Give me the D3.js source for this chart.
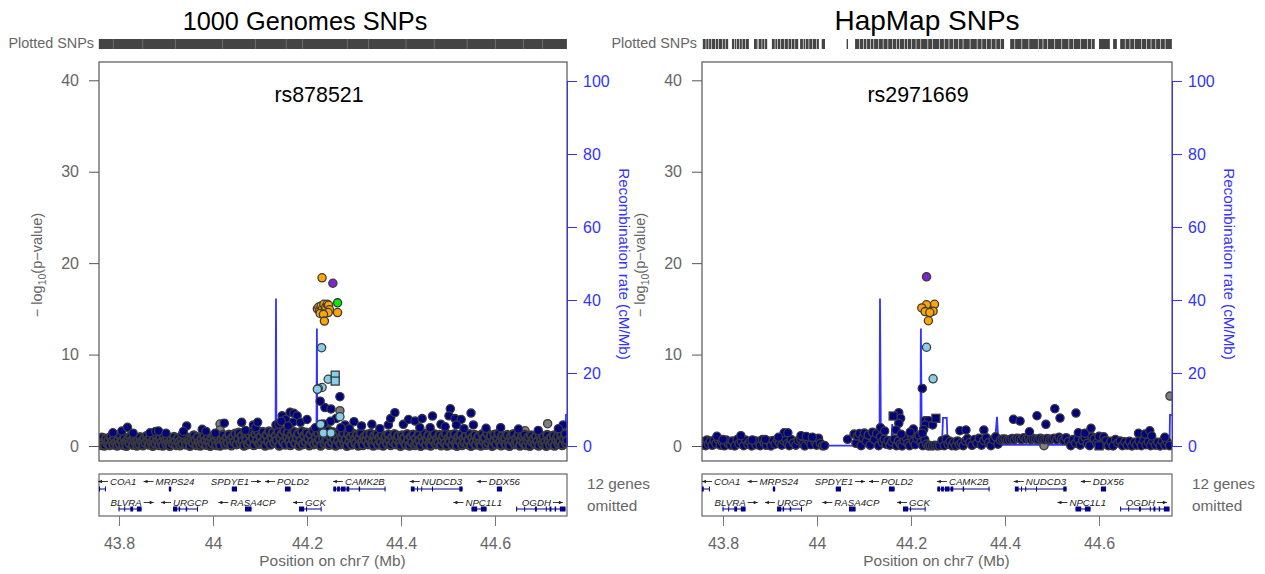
<!DOCTYPE html>
<html>
<head>
<meta charset="utf-8">
<script src="https://cdn.jsdelivr.net/npm/d3@7"></script>
<style>
body { margin: 0; background: #fff; overflow: hidden; }
text { font-family: "Liberation Sans", Arial, sans-serif; }
</style>
</head>
<body>
<div id="chart"></div>
<script>
// values: [position Mb, -log10 p]
var kgBase = [[43.757,.2],[43.759,.7],[43.762,.1],[43.764,.9],[43.767,.4],[43.769,.05],[43.772,.8],[43.775,.3],[43.777,.6],[43.78,.1],[43.782,1],[43.785,.5],[43.788,.15],[43.79,.85],[43.793,.35],[43.796,.05],[43.798,.7],[43.801,.25],[43.803,1.1],[43.806,.55],[43.809,.1],[43.811,.9],[43.814,.4],[43.816,.02],[43.819,.75],[43.822,.3],[43.824,1.05],[43.827,.6],[43.83,.12],[43.832,.85],[43.835,.45],[43.838,.05],[43.84,.7],[43.843,.2],[43.845,.95],[43.848,.5],[43.851,.08],[43.853,.8],[43.856,.35],[43.859,1.1],[43.861,.6],[43.864,.15],[43.866,.9],[43.869,.4],[43.872,.03],[43.874,.75],[43.877,.25],[43.88,1.05],[43.882,.55],[43.885,.1],[43.887,.85],[43.89,.4],[43.893,.05],[43.895,1],[43.898,.6],[43.901,.2],[43.903,.8],[43.906,.35],[43.908,.02],[43.911,.7],[43.914,.3],[43.917,1],[43.919,.5],[43.922,.1],[43.925,.85],[43.927,.4],[43.93,.07],[43.933,.75],[43.935,.25],[43.938,1.1],[43.941,.6],[43.943,.15],[43.946,.9],[43.949,.45],[43.951,.03],[43.954,.8],[43.957,.35],[43.959,1.15],[43.962,.65],[43.965,.1],[43.967,.95],[43.97,.4],[43.973,.05],[43.975,.75],[43.978,.3],[43.981,1.1],[43.983,.55],[43.986,.12],[43.989,.9],[43.991,.45],[43.994,.02],[43.997,.8],[43.999,.3],[44.002,1.15],[44.005,.6],[44.007,.1],[44.01,.95],[44.013,.4],[44.015,.05],[44.018,.75],[44.021,1.2],[44.023,.5],[44.026,.15],[44.029,.9],[44.031,.35],[44.034,1.25],[44.037,.65],[44.039,.08],[44.042,1],[44.045,.45],[44.047,1.35],[44.05,.2],[44.053,.8],[44.055,1.45],[44.058,.3],[44.061,1.1],[44.063,.55],[44.066,.05],[44.069,1.4],[44.071,.7],[44.074,.2],[44.077,1.25],[44.079,.45],[44.082,1.55],[44.085,.85],[44.087,.1],[44.09,1.3],[44.093,.6],[44.095,1.6],[44.098,.25],[44.101,1],[44.103,.4],[44.106,1.55],[44.109,.7],[44.111,.05],[44.114,1.2],[44.117,.5],[44.119,1.6],[44.122,.15],[44.125,.9],[44.127,1.45],[44.13,.35],[44.133,1.1],[44.135,.6],[44.138,1.6],[44.141,.05],[44.143,.85],[44.146,1.3],[44.149,.4],[44.151,1.65],[44.154,.15],[44.157,1],[44.159,1.5],[44.162,.55],[44.165,.1],[44.167,1.2],[44.17,.7],[44.173,1.55],[44.175,.3],[44.178,.9],[44.181,1.35],[44.183,.05],[44.186,.6],[44.189,1.6],[44.191,.2],[44.194,1.1],[44.197,.45],[44.199,1.45],[44.202,.8],[44.205,.08],[44.207,1.25],[44.21,.5],[44.213,1.65],[44.215,.2],[44.218,1],[44.221,.35],[44.223,1.4],[44.226,.7],[44.229,.05],[44.231,1.6],[44.234,.9],[44.237,.3],[44.239,1.2],[44.242,.55],[44.245,1.7],[44.247,.12],[44.25,1],[44.253,.4],[44.255,1.5],[44.258,.75],[44.261,.05],[44.263,1.3],[44.266,.6],[44.269,1.6],[44.271,.2],[44.274,.95],[44.277,1.4],[44.279,.35],[44.282,.7],[44.285,.02],[44.287,1.3],[44.29,.5],[44.293,1],[44.295,.15],[44.298,1.35],[44.301,.7],[44.303,.3],[44.306,1.2],[44.309,.05],[44.311,.85],[44.314,1.4],[44.317,.45],[44.319,.1],[44.322,1],[44.325,.6],[44.327,1.25],[44.33,.2],[44.333,.8],[44.335,1.35],[44.338,.35],[44.341,.05],[44.343,1.1],[44.346,.55],[44.349,1.3],[44.351,.15],[44.354,.9],[44.357,.4],[44.359,1.2],[44.362,.05],[44.365,.7],[44.367,1.05],[44.37,.3],[44.373,1.25],[44.375,.6],[44.378,.1],[44.381,.95],[44.383,.45],[44.386,1.3],[44.389,.2],[44.391,.75],[44.394,1.1],[44.397,.35],[44.399,.03],[44.402,1.15],[44.405,.55],[44.407,.9],[44.41,.15],[44.413,1.3],[44.415,.65],[44.418,.05],[44.421,1],[44.423,.4],[44.426,1.25],[44.429,.1],[44.431,.8],[44.434,.3],[44.437,1.2],[44.439,.6],[44.442,.02],[44.445,.95],[44.447,.45],[44.45,1.35],[44.453,.15],[44.455,.7],[44.458,1.15],[44.461,.3],[44.463,.05],[44.466,1],[44.469,.55],[44.471,1.3],[44.474,.2],[44.477,.8],[44.479,.4],[44.482,1.2],[44.485,.08],[44.487,.65],[44.49,1.05],[44.493,.3],[44.495,1.35],[44.498,.05],[44.501,.85],[44.503,.45],[44.506,1.2],[44.509,.15],[44.511,.7],[44.514,1.3],[44.517,.3],[44.519,.02],[44.522,1],[44.525,.5],[44.527,1.25],[44.53,.1],[44.533,.8],[44.535,.4],[44.538,1.15],[44.541,.2],[44.543,.65],[44.546,1.3],[44.549,.03],[44.551,.9],[44.554,.45],[44.557,1.2],[44.559,.15],[44.562,.75],[44.565,1.05],[44.567,.3],[44.57,.05],[44.573,1.3],[44.575,.55],[44.578,.9],[44.581,.12],[44.583,1.4],[44.586,.35],[44.589,.75],[44.591,1.1],[44.594,.02],[44.597,.5],[44.599,1.25],[44.602,.2],[44.605,.85],[44.607,1.35],[44.61,.4],[44.613,.07],[44.615,1.1],[44.618,.6],[44.621,.9],[44.623,.15],[44.626,1.2],[44.629,.4],[44.631,.03],[44.634,1.05],[44.637,.55],[44.639,1.3],[44.642,.2],[44.645,.8],[44.647,.35],[44.65,1.2],[44.653,.05],[44.655,.7],[44.658,1.1],[44.661,.3],[44.663,1.25],[44.666,.1],[44.669,.6],[44.671,.95],[44.674,.02],[44.677,1.15],[44.679,.45],[44.682,.8],[44.685,.2],[44.687,1.05],[44.69,.5],[44.693,.05],[44.695,1.2],[44.698,.7],[44.701,.25],[44.703,1],[44.706,.4],[44.709,.02],[44.711,1.2],[44.714,.6],[44.717,.15],[44.719,.9],[44.722,.35],[44.725,1.15],[44.727,.05],[44.73,.7],[44.733,1.05],[44.735,.25],[44.738,.5],[44.741,1.2],[44.743,.1],[44.746,.8],[44.749,1.3],[44.751,.3],[44.753,.6]];
var kgNavy = [[43.787,1.45],[43.806,1.64],[43.818,2.04],[43.83,1.4],[43.866,1.45],[43.878,1.6],[43.884,1.64],[43.9,1.39],[43.935,1.3],[43.944,2.19],[43.937,1.6],[43.977,1.82],[43.985,1.6],[44.005,1.4],[44.024,2.5],[44.061,2.59],[44.086,2.3],[44.091,2],[44.095,2.59],[44.069,1.7],[44.134,2.3],[44.147,3.3],[44.14,2.4],[44.155,2.9],[44.164,3.68],[44.172,3.57],[44.179,3.3],[44.17,2.6],[44.186,2.59],[44.2,2.9],[44.145,2.7],[44.16,2.2],[44.218,2],[44.238,4.2],[44.251,4.05],[44.228,4.9],[44.27,5.4],[44.281,2.3],[44.3,2.66],[44.316,2.2],[44.338,2.37],[44.355,1.9],[44.373,2.3],[44.378,3],[44.387,3.64],[44.405,2.37],[44.416,2.9],[44.43,2.73],[44.445,3],[44.44,2],[44.467,3.28],[44.485,2.37],[44.462,2],[44.505,4.07],[44.502,3.3],[44.515,3],[44.528,2.9],[44.518,2.3],[44.494,2.1],[44.549,3.6],[44.554,2.3],[44.534,1.9],[44.581,1.93],[44.612,2],[44.65,1.86],[44.745,2.3],[44.735,1.9],[44.692,1.7],[44.262,3],[44.25,2.7],[44.235,2.4],[44.272,2],[44.29,1.9]];
var kgGray = [[44.015,2.4],[44.015,1.75],[44.27,3.86],[44.664,1.67],[44.712,2.44]];
var kgLight = [[44.231,10.75],[44.245,7.3],[44.232,6.4],[44.224,6.3],[44.222,6.2],[44.27,3.2],[44.229,2.37],[44.235,1.42],[44.251,1.42]];
var kgLightSq = [[44.26,7.75],[44.26,7.1]];
var kgOrange = [[44.232,18.4],[44.222,15],[44.225,15.2],[44.227,14.8],[44.23,15.3],[44.233,15],[44.236,15.5],[44.238,14.7],[44.24,15.2],[44.243,15.5],[44.246,15.4],[44.248,14.9],[44.245,14.6],[44.228,14.5],[44.235,14.4],[44.265,14.6],[44.237,13.66]];
var kgPurple = [[44.255,17.8]];
var kgGreen = [[44.265,15.66]];
var kgRecomb = [[43.755,.2],[44.133,.3],[44.134,40.4],[44.135,.4],[44.22,.4],[44.221,32.2],[44.222,.4],[44.75,.4],[44.751,8.5],[44.753,8.5]];

var hmBase = [[43.757,.15],[43.76,.5],[43.763,.05],[43.766,.65],[43.769,.2],[43.773,.55],[43.777,.08],[43.781,.6],[43.785,.25],[43.79,.7],[43.794,.1],[43.798,.5],[43.803,.03],[43.807,.65],[43.811,.3],[43.816,.1],[43.82,.55],[43.825,.02],[43.83,.7],[43.834,.25],[43.839,.5],[43.844,.05],[43.848,.65],[43.853,.2],[43.857,.45],[43.861,.02],[43.866,.6],[43.87,.15],[43.875,.5],[43.879,.05],[43.884,.7],[43.888,.3],[43.892,.08],[43.897,.55],[43.902,.02],[43.907,.6],[43.911,.2],[43.916,.65],[43.92,.35],[43.925,.1],[43.929,.6],[43.933,.8],[43.937,.25],[43.941,.05],[43.945,.7],[43.95,.35],[43.955,.1],[43.96,.6],[43.965,.75],[43.97,.2],[43.974,.02],[43.978,.85],[43.983,.5],[43.987,.15],[43.991,.9],[43.995,.55],[43.999,.1],[44.003,.85],[44.007,.3],[44.012,.02],[44.016,.05],[44.079,1.3],[44.083,.3],[44.086,1.1],[44.09,1.35],[44.094,.05],[44.098,.9],[44.101,1.4],[44.105,.5],[44.109,1.2],[44.113,.1],[44.118,1.5],[44.122,.7],[44.127,1.35],[44.131,.05],[44.135,1],[44.139,.4],[44.143,.75],[44.147,.2],[44.151,.6],[44.155,.1],[44.159,.45],[44.164,.75],[44.169,.05],[44.173,.55],[44.177,.2],[44.181,.02],[44.185,.6],[44.189,.95],[44.193,.3],[44.197,.05],[44.201,1.1],[44.205,.5],[44.209,.15],[44.213,.8],[44.217,1.15],[44.221,.4],[44.225,.05],[44.229,.7],[44.233,.2],[44.237,.02],[44.241,.05],[44.246,.02],[44.251,.08],[44.256,.02],[44.261,.06],[44.266,.6],[44.271,.05],[44.275,.75],[44.279,.2],[44.283,.5],[44.287,.05],[44.291,.4],[44.295,.02],[44.299,.55],[44.303,.15],[44.307,.35],[44.311,.05],[44.316,.55],[44.32,.8],[44.325,.4],[44.33,.08],[44.335,.7],[44.34,.3],[44.345,.85],[44.35,.1],[44.355,.6],[44.36,.9],[44.365,.35],[44.37,.05],[44.375,.7],[44.38,1],[44.385,.2],[44.39,.65],[44.395,.75],[44.4,.75],[44.405,.65],[44.41,.7],[44.415,.8],[44.42,.7],[44.425,.85],[44.43,.8],[44.435,.7],[44.44,.9],[44.445,.75],[44.45,.85],[44.455,.7],[44.46,.8],[44.465,.75],[44.47,.7],[44.475,.85],[44.48,.75],[44.485,.7],[44.49,.8],[44.495,.7],[44.5,.75],[44.505,.85],[44.51,.7],[44.515,.95],[44.52,.75],[44.525,.6],[44.53,.9],[44.535,.5],[44.54,.05],[44.545,.7],[44.55,.3],[44.555,.75],[44.56,.1],[44.565,.6],[44.57,.95],[44.575,.3],[44.58,.05],[44.585,1],[44.59,.8],[44.595,.35],[44.6,1.05],[44.605,.1],[44.61,1],[44.615,.6],[44.62,.05],[44.625,.5],[44.63,.02],[44.635,.7],[44.64,.35],[44.645,.55],[44.65,.05],[44.655,.45],[44.66,.1],[44.665,.5],[44.67,.02],[44.675,.4],[44.68,.1],[44.685,.55],[44.69,.05],[44.695,.6],[44.7,.15],[44.705,.45],[44.71,.05],[44.715,.55],[44.72,.1],[44.725,.4],[44.73,.02],[44.735,.5],[44.74,.1],[44.745,.45],[44.75,.05]];
var hmNavy = [[43.787,1.06],[43.838,1.13],[43.8,.7],[43.862,.65],[43.89,.7],[43.93,1.45],[43.938,1.45],[43.918,.95],[43.966,1.13],[43.977,1.05],[43.99,.95],[44.065,.73],[44.135,2],[44.144,1.64],[44.174,3.64],[44.178,3.03],[44.174,2.48],[44.168,1.75],[44.179,1.28],[44.205,1.86],[44.198,1.5],[44.23,2.77],[44.237,2.77],[44.23,2.3],[44.246,2.3],[44.227,1.8],[44.224,1.4],[44.224,6.3],[44.304,1.67],[44.317,1.75],[44.355,1.75],[44.418,2.92],[44.432,2.73],[44.468,3.31],[44.506,4.08],[44.517,3.06],[44.487,2.37],[44.551,3.6],[44.452,1.56],[44.556,1.45],[44.57,1.4],[44.583,1.93],[44.684,1.39],[44.698,1.3],[44.708,1.67],[44.712,1.1],[44.74,.95]];
var hmNavySq = [[44.162,3.28],[44.253,3.03],[44.6,.02]];
var hmGray = [[44.751,5.46],[44.483,.03]];
var hmLight = [[44.233,10.8],[44.247,7.35]];
var hmOrange = [[44.25,15.5],[44.233,15.45],[44.223,15.1],[44.23,14.7],[44.247,14.75],[44.24,14.6],[44.237,13.7]];
var hmPurple = [[44.233,18.5]];
var hmRecomb = [[43.755,.1],[44.133,.1],[44.134,40.4],[44.136,.3],[44.158,.3],[44.16,6],[44.162,.3],[44.22,.3],[44.221,32.2],[44.223,.3],[44.266,.3],[44.268,7.7],[44.276,7.7],[44.278,.3],[44.378,.3],[44.383,8],[44.386,.3],[44.735,.3],[44.736,2.5],[44.748,2.5],[44.75,.3],[44.751,8.5],[44.755,8.5]];

var kgRugRanges = [[43.757,44.753]];
var kgRugGaps = [43.787,43.85,43.92,44.02,44.09,44.155,44.19,44.285,44.33,44.41,44.47,44.54,44.6,44.66,44.7];
var hmRugRanges = [[43.757,43.811],[43.819,43.855],[43.866,43.894],[43.904,43.96],[43.964,44.004],[44.01,44.017],[44.063,44.066],[44.081,44.398],[44.411,44.591],[44.6,44.623],[44.63,44.638],[44.645,44.755]];
var hmRugGaps = [43.763,43.769,43.775,43.783,43.79,43.798,43.804,43.824,43.828,43.834,43.84,43.847,43.872,43.875,43.882,43.888,43.91,43.915,43.922,43.93,43.938,43.945,43.952,43.97,43.975,43.982,43.99,43.998,44.09,44.098,44.105,44.113,44.12,44.13,44.14,44.15,44.16,44.168,44.175,44.185,44.192,44.2,44.21,44.22,44.235,44.245,44.26,44.27,44.28,44.29,44.3,44.31,44.325,44.34,44.35,44.36,44.37,44.38,44.39,44.42,44.435,44.45,44.47,44.48,44.49,44.505,44.52,44.535,44.545,44.56,44.575,44.583,44.655,44.665,44.675,44.69,44.7,44.71,44.72,44.73,44.74];

var geneNames = ["COA1","MRPS24","SPDYE1","POLD2","CAMK2B","NUDCD3","DDX56","BLVRA","URGCP","RASA4CP","GCK","NPC1L1","OGDH"];
var geneRow = [0,0,0,0,0,0,0,1,1,1,1,1,1];
var geneDir = [-1,-1,1,-1,-1,-1,-1,1,-1,-1,-1,-1,1];
var geneLabelPos = [43.809,43.919,44.036,44.17,44.323,44.487,44.62,43.815,43.952,44.085,44.218,44.576,44.688];
var geneStart = [43.755,43.906,44.04,44.153,44.256,44.421,44.604,43.799,43.915,44.068,44.183,44.55,44.645];
var geneEnd = [43.772,43.911,44.051,44.165,44.367,44.531,44.615,43.848,43.967,44.082,44.23,44.582,44.75];
var geneExons = [
    [[43.755,43.759],[43.77,43.772]],
    [[43.906,43.911]],
    [[44.04,44.051]],
    [[44.153,44.165]],
    [[44.256,44.262],[44.264,44.27],[44.272,44.282],[44.284,44.29],[44.31,44.313],[44.365,44.367]],
    [[44.421,44.429],[44.434,44.436],[44.443,44.445],[44.466,44.468],[44.524,44.531]],
    [[44.604,44.615]],
    [[43.799,43.801],[43.811,43.813],[43.824,43.83],[43.838,43.848]],
    [[43.915,43.924],[43.927,43.93],[43.942,43.945],[43.966,43.967]],
    [[44.068,44.082]],
    [[44.183,44.194],[44.198,44.2],[44.229,44.23]],
    [[44.55,44.562],[44.57,44.582]],
    [[44.645,44.646],[44.662,44.664],[44.685,44.689],[44.708,44.71],[44.716,44.72],[44.727,44.73],[44.738,44.75]]
];

var xTicks = [43.8,44,44.2,44.4,44.6];
var yTicks = [0,10,20,30,40];
var recombTicks = [0,20,40,60,80,100];

var GREY = "#666";
var BLUE = "#3333ff";
var svg = d3.select("#chart").append("svg").attr("width", 1265).attr("height", 574);

function panel(cfg) {
    var left = cfg.left, right = cfg.right;
    var top = 62, bottom = 461;
    var x = d3.scaleLinear().domain(cfg.xDomain).range([left, right]);
    var y = d3.scaleLinear().domain([-1.64, 42]).range([bottom, top]);
    var yR = d3.scaleLinear().domain([0, 100]).range([446, 81]);
    var g = svg.append("g");

    g.append("clipPath").attr("id", cfg.id).append("rect")
        .attr("x", left).attr("y", top).attr("width", right - left).attr("height", bottom - top);

    g.append("text").attr("x", cfg.titleX).attr("y", 30).attr("text-anchor", "middle")
        .attr("font-size", cfg.titleSize).attr("fill", "#000").text(cfg.title);
    g.append("text").attr("x", left - 5).attr("y", 48).attr("text-anchor", "end")
        .attr("font-size", 14.4).attr("fill", GREY).text("Plotted SNPs");

    // rug of plotted SNPs
    g.selectAll(".rug").data(cfg.rug).enter().append("rect")
        .attr("x", function(d) { return x(d[0]); })
        .attr("width", function(d) { return x(d[1]) - x(d[0]); })
        .attr("y", 39).attr("height", 10).attr("fill", "#444");
    g.selectAll(".rugGap").data(cfg.rugGaps).enter().append("rect")
        .attr("x", function(d) { return x(d); })
        .attr("width", cfg.gapWidth)
        .attr("y", 39).attr("height", 10).attr("fill", "#fff").attr("opacity", cfg.gapOpacity);

    var plot = g.append("g").attr("clip-path", "url(#" + cfg.id + ")");

    // recombination line sits behind the points
    var line = d3.line().x(function(d) { return x(d[0]); }).y(function(d) { return yR(d[1]); });
    plot.append("path").datum(cfg.recomb).attr("d", line).attr("fill", "none")
        .attr("stroke", BLUE).attr("stroke-width", 1.8);

    function dots(data, fill, sw) {
        plot.append("g").selectAll("circle").data(data).enter().append("circle")
            .attr("cx", function(d) { return x(d[0]); })
            .attr("cy", function(d) { return y(d[1]); })
            .attr("r", 4.1)
            .attr("fill", fill).attr("stroke", "#3a3a3a").attr("stroke-width", sw || 1.3);
    }
    function squares(data, fill) {
        plot.append("g").selectAll("rect").data(data).enter().append("rect")
            .attr("x", function(d) { return x(d[0]) - 4; })
            .attr("y", function(d) { return y(d[1]) - 4; })
            .attr("width", 8).attr("height", 8)
            .attr("fill", fill).attr("stroke", "#3a3a3a").attr("stroke-width", 1.3);
    }
    dots(cfg.gray, "#7f7f7f");
    dots(cfg.base, "#000080", cfg.baseStroke);
    dots(cfg.navy, "#000080");
    if (cfg.navySq) squares(cfg.navySq, "#000080");
    dots(cfg.light, "#87ceeb");
    if (cfg.lightSq) squares(cfg.lightSq, "#87ceeb");
    dots(cfg.orange, "#ffa500");
    if (cfg.green) dots(cfg.green, "#00ee00");
    dots(cfg.purple, "#7d26cd");

    // frame
    g.append("rect").attr("x", left).attr("y", top).attr("width", right - left).attr("height", bottom - top)
        .attr("fill", "none").attr("stroke", "#555").attr("stroke-width", 1.2);

    g.append("text").attr("x", cfg.snpX).attr("y", 102).attr("text-anchor", "middle")
        .attr("font-size", 21.4).attr("fill", "#000").text(cfg.snp);

    // left axis
    var ax = g.append("g").attr("transform", "translate(" + left + ",0)")
        .call(d3.axisLeft(y).tickValues(yTicks).tickSize(10).tickPadding(10).tickFormat(d3.format("d")));
    ax.select(".domain").remove();
    ax.selectAll("line").attr("stroke", "#555");
    ax.selectAll("text").attr("font-size", 16).attr("fill", GREY).style("font-family", "Liberation Sans");

    // right axis
    var axR = g.append("g").attr("transform", "translate(" + right + ",0)")
        .call(d3.axisRight(yR).tickValues(recombTicks).tickSize(10).tickPadding(6).tickSizeOuter(0).tickFormat(d3.format("d")));
    axR.select(".domain").attr("stroke", BLUE);
    axR.selectAll("line").attr("stroke", BLUE);
    axR.selectAll("text").attr("font-size", 16).attr("fill", BLUE).style("font-family", "Liberation Sans");

    var yl = g.append("text").attr("transform", "translate(" + (left - 57) + ",265) rotate(-90)")
        .attr("text-anchor", "middle").attr("font-size", 14.5).attr("fill", GREY);
    yl.append("tspan").text("\u2212 log");
    yl.append("tspan").attr("font-size", 10.5).attr("dy", 4).text("10");
    yl.append("tspan").attr("dy", -4).text("(p\u2212value)");

    g.append("text").attr("transform", "translate(" + (right + 52) + ",264) rotate(90)")
        .attr("text-anchor", "middle").attr("font-size", 15.2).attr("fill", BLUE)
        .text("Recombination rate (cM/Mb)");

    // gene panel
    var gTop = 474, gBottom = 516;
    var rowLine = [489, 509], rowLabel = [485, 506];
    g.append("rect").attr("x", left).attr("y", gTop).attr("width", right - left).attr("height", gBottom - gTop)
        .attr("fill", "none").attr("stroke", "#666").attr("stroke-width", 1.2);

    var genes = g.selectAll(".gene").data(geneNames).enter().append("g");
    genes.append("line")
        .attr("x1", function(d, i) { return x(Math.max(geneStart[i], cfg.xDomain[0])); })
        .attr("x2", function(d, i) { return x(geneEnd[i]); })
        .attr("y1", function(d, i) { return rowLine[geneRow[i]]; })
        .attr("y2", function(d, i) { return rowLine[geneRow[i]]; })
        .attr("stroke", "#00008b").attr("stroke-width", 1);
    genes.each(function(d, i) {
        d3.select(this).selectAll("rect").data(geneExons[i]).enter().append("rect")
            .attr("x", function(e) { return x(Math.max(e[0], cfg.xDomain[0])); })
            .attr("width", function(e) { return Math.max(1, x(e[1]) - x(Math.max(e[0], cfg.xDomain[0]))); })
            .attr("y", rowLine[geneRow[i]] - 2.5).attr("height", 5).attr("fill", "#00008b");
    });
    var labels = genes.append("text")
        .attr("x", function(d, i) { return x(geneLabelPos[i]); })
        .attr("y", function(d, i) { return rowLabel[geneRow[i]]; })
        .attr("text-anchor", "middle").attr("font-size", 9.7).attr("font-style", "italic")
        .attr("fill", "#222").text(function(d) { return d; });
    // arrow next to each gene name
    genes.each(function(d, i) {
        var w = labels.nodes()[i].getComputedTextLength() / 2;
        var cx = x(geneLabelPos[i]), yy = rowLabel[geneRow[i]] - 3.5, dir = geneDir[i];
        var a = cx + dir * (w + 2), b = cx + dir * (w + 12);
        d3.select(this).append("line").attr("x1", a).attr("x2", b).attr("y1", yy).attr("y2", yy)
            .attr("stroke", "#222").attr("stroke-width", 0.9);
        d3.select(this).append("path")
            .attr("d", "M" + b + "," + yy + "L" + (b - dir * 4) + "," + (yy - 1.8) + "L" + (b - dir * 4) + "," + (yy + 1.8) + "Z")
            .attr("fill", "#222");
    });

    var axX = g.append("g").attr("transform", "translate(0," + gBottom + ")")
        .call(d3.axisBottom(x).tickValues(xTicks).tickSize(10).tickPadding(12).tickFormat(function(d) { return String(d); }));
    axX.select(".domain").remove();
    axX.selectAll("line").attr("stroke", "#777");
    axX.selectAll("text").attr("font-size", 16).attr("fill", GREY).style("font-family", "Liberation Sans");

    g.append("text").attr("x", (left + right) / 2 - 0.5).attr("y", 566).attr("text-anchor", "middle")
        .attr("font-size", 15.4).attr("fill", GREY).text("Position on chr7 (Mb)");
    g.append("text").attr("x", right + 20).attr("y", 489).attr("font-size", 15.3).attr("fill", GREY).text("12 genes");
    g.append("text").attr("x", right + 20).attr("y", 511).attr("font-size", 15.3).attr("fill", GREY).text("omitted");
}

panel({
    id: "clipKg", left: 99, right: 567, xDomain: [43.7574, 44.7532], title: "1000 Genomes SNPs", titleX: 305, titleSize: 25.3,
    snp: "rs878521", snpX: 319, rug: kgRugRanges, rugGaps: kgRugGaps, gapWidth: 0.6, gapOpacity: 0.35,
    recomb: kgRecomb, base: kgBase, baseStroke: 2.2, navy: kgNavy, gray: kgGray, light: kgLight, lightSq: kgLightSq,
    orange: kgOrange, green: kgGreen, purple: kgPurple
});
panel({
    id: "clipHm", left: 702, right: 1172, xDomain: [43.7553, 44.7553], title: "HapMap SNPs", titleX: 927, titleSize: 28,
    snp: "rs2971669", snpX: 918, rug: hmRugRanges, rugGaps: hmRugGaps, gapWidth: 0.7, gapOpacity: 0.9,
    recomb: hmRecomb, base: hmBase, baseStroke: 1.5, navy: hmNavy, navySq: hmNavySq, gray: hmGray, light: hmLight,
    orange: hmOrange, purple: hmPurple
});
</script>
</body>
</html>
